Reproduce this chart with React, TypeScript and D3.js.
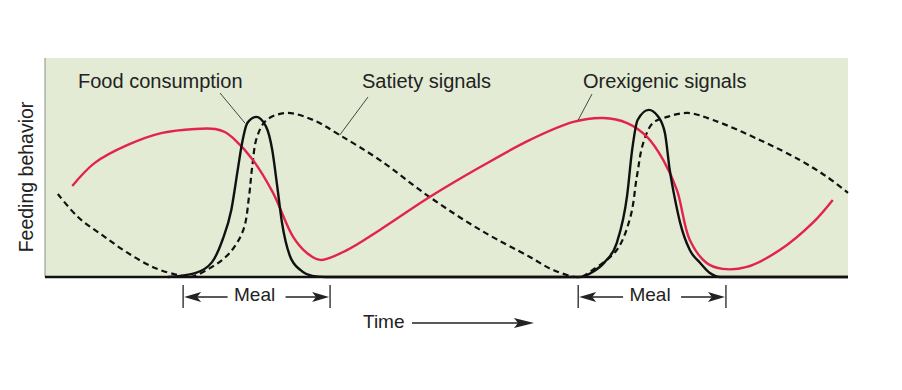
import React from "react";
import { scaleLinear, line, curveMonotoneX, curveCatmullRom } from "d3";

// time axis is 0..100 (schematic), level is 0..100
const foodT = [15.3, 18.7, 20.8, 22.1, 23.2, 24.0, 24.5, 25.2, 26.3, 27.5, 28.3, 28.9, 29.5, 30.5, 31.8, 33.3, 34.9, 66.6, 68.2, 69.7, 71.2, 72.5, 73.1, 73.8, 75.2, 76.3, 77.2, 77.8, 78.6, 79.1, 80.3, 81.6, 82.8, 84.1, 100];
const foodV = [0, 1.8, 6.8, 16.9, 30.6, 48.9, 60.3, 70.3, 73.1, 68.9, 58.0, 42.0, 25.1, 9.6, 3.2, 0.5, 0, 0, 2.3, 6.8, 15.5, 37.4, 57.5, 71.7, 76.3, 73.5, 65.8, 48.9, 32.9, 24.7, 12.3, 6.4, 1.8, 0, 0];

const satietyT = [1.6, 4.1, 7.1, 10.3, 13.7, 16.6, 18.1, 20.8, 23.0, 24.7, 25.4, 25.8, 26.4, 27.6, 30.1, 33.4, 36.7, 41.7, 47.9, 54.2, 60.4, 63.3, 66.6, 68.2, 71.2, 72.9, 73.7, 74.5, 75.7, 77.5, 80.0, 83.2, 89.0, 94.0, 97.4, 100];
const satietyV = [37.9, 27.4, 19.2, 11.0, 4.1, 0.9, 0, 4.6, 11.0, 21.5, 36.5, 50.2, 63.9, 71.7, 74.9, 71.7, 64.8, 53.4, 36.5, 21.5, 9.1, 3.2, 0, 3.2, 12.3, 27.4, 45.7, 61.2, 70.3, 73.1, 74.9, 71.7, 62.6, 53.4, 45.7, 38.4];

const orexT = [3.4, 6.2, 10.3, 14.6, 18.7, 21.2, 22.4, 23.4, 25.9, 28.4, 30.9, 32.6, 34.3, 37.6, 41.7, 47.9, 54.2, 60.4, 65.8, 69.5, 72.5, 75.0, 77.0, 78.7, 80.3, 82.4, 84.4, 87.4, 91.5, 95.6, 98.1];
const orexV = [41.6, 52.1, 60.3, 65.8, 67.6, 67.6, 66.2, 63.5, 53.4, 38.4, 18.3, 11.0, 7.8, 12.3, 21.5, 36.5, 50.2, 62.6, 70.8, 72.6, 70.3, 63.9, 53.4, 39.7, 16.9, 6.4, 3.7, 4.6, 12.3, 24.7, 35.2];

// meal start/end on the time axis
const meals = [[17.2, 35.5], [66.4, 84.8]];

const font = "'Liberation Sans', Arial, Helvetica, sans-serif";
const RED = "#e2234d";

export default function App() {
  const left = 45, right = 848, top = 58, bottom = 277;
  const x = scaleLinear().domain([0, 100]).range([left, right]);
  const y = scaleLinear().domain([0, 100]).range([bottom, top]);

  const mk = (ts: number[], vs: number[], curve: any) =>
    line<number>()
      .x((t) => x(t))
      .y((_, i) => y(vs[i]))
      .curve(curve)(ts) ?? "";

  const arrowHead = (tipX: number, tipY: number, dir: number, len = 17, hw = 5) =>
    `M${tipX},${tipY}L${tipX - dir * len},${tipY - hw}L${tipX - dir * (len - 4)},${tipY}L${tipX - dir * len},${tipY + hw}Z`;

  const mealY = 297;

  return (
    <svg
      width={902}
      height={390}
      style={{ position: "absolute", left: 0, top: 0, background: "#fff" }}
      fontFamily={font}
    >
      <rect x={left} y={top} width={right - left} height={bottom - top} fill="#e3ebd5" />
      <line x1={left} x2={left} y1={top} y2={bottom} stroke="#8a8f84" strokeWidth={1} />

      <path d={mk(satietyT, satietyV, curveCatmullRom)} fill="none" stroke="#111" strokeWidth={2.2} strokeDasharray="6,4" />
      <path d={mk(orexT, orexV, curveCatmullRom)} fill="none" stroke={RED} strokeWidth={2.4} />
      <path d={mk(foodT, foodV, curveMonotoneX)} fill="none" stroke="#111" strokeWidth={2.4} />

      {/* bottom axis */}
      <line x1={left} x2={right} y1={bottom} y2={bottom} stroke="#111" strokeWidth={2.5} />

      {/* labels + leaders */}
      <text x={78} y={88} fontSize={20} fill="#222">Food consumption</text>
      <line x1={220} y1={93} x2={x(24.9)} y2={y(70.3)} stroke="#333" strokeWidth={0.9} />

      <text x={362} y={88} fontSize={20} fill="#222">Satiety signals</text>
      <line x1={368} y1={97} x2={x(36.7)} y2={y(64.8)} stroke="#333" strokeWidth={0.9} />

      <text x={583} y={88} fontSize={20} fill="#222">Orexigenic signals</text>
      <line x1={592} y1={94} x2={x(66.4)} y2={y(71.7)} stroke="#333" strokeWidth={0.9} />

      <text
        transform={`translate(33,177) rotate(-90)`}
        textAnchor="middle"
        fontSize={19.5}
        fill="#222"
      >
        Feeding behavior
      </text>

      {/* meal brackets */}
      {meals.map(([a, b], i) => {
        const xa = x(a), xb = x(b);
        const mid = (xa + xb) / 2;
        return (
          <g key={i}>
            <line x1={xa} x2={xa} y1={285} y2={308} stroke="#222" strokeWidth={1.3} />
            <line x1={xb} x2={xb} y1={285} y2={308} stroke="#222" strokeWidth={1.3} />
            <line x1={xa + 8} x2={mid - 29} y1={mealY} y2={mealY} stroke="#222" strokeWidth={1.4} />
            <path d={arrowHead(xa + 1, mealY, -1)} fill="#222" />
            <line x1={mid + 29} x2={xb - 8} y1={mealY} y2={mealY} stroke="#222" strokeWidth={1.4} />
            <path d={arrowHead(xb - 1, mealY, 1)} fill="#222" />
            <text x={mid - 2} y={301} textAnchor="middle" fontSize={19} fill="#222">Meal</text>
          </g>
        );
      })}

      {/* time arrow */}
      <text x={363} y={328} fontSize={19} fill="#222">Time</text>
      <line x1={412} x2={522} y1={323} y2={323} stroke="#222" strokeWidth={1.4} />
      <path d={arrowHead(534, 323, 1, 20, 5)} fill="#222" />
    </svg>
  );
}
